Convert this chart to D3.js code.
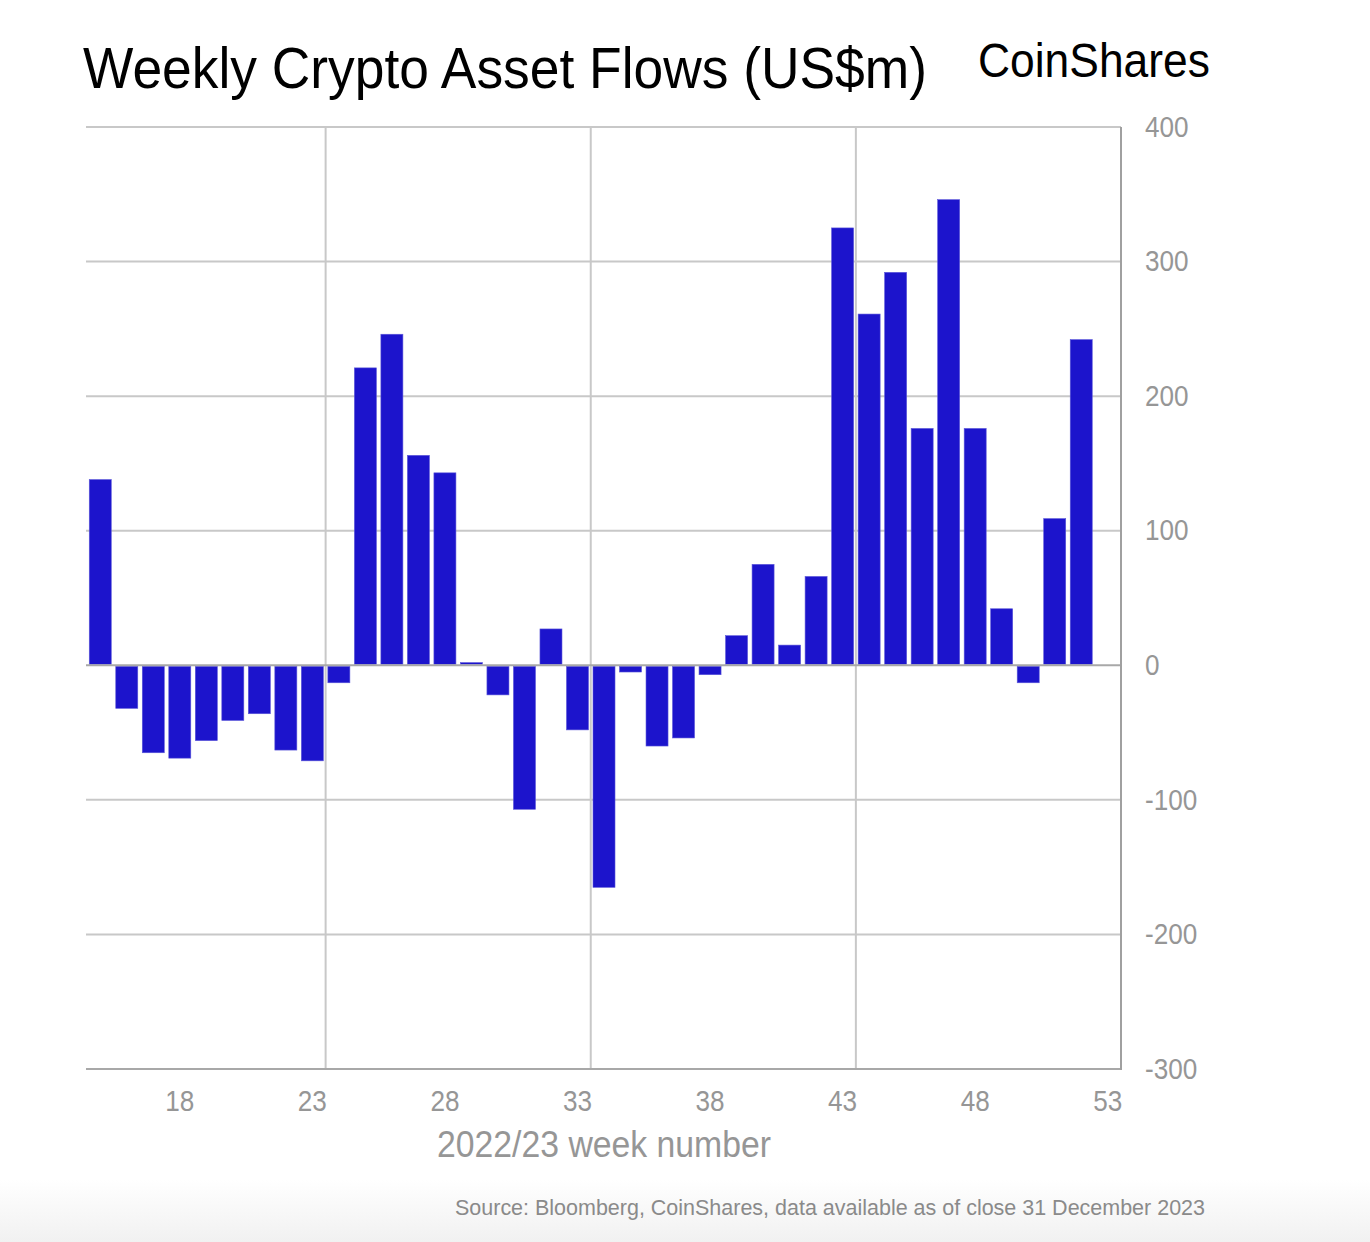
<!DOCTYPE html>
<html>
<head>
<meta charset="utf-8">
<script src="https://cdn.jsdelivr.net/npm/d3@7"></script>
<style>
  html, body { margin: 0; padding: 0; background: #fff; }
  svg { display: block; }
  text { font-family: "Liberation Sans", Arial, Helvetica, sans-serif; }
</style>
</head>
<body>
<svg id="chart" width="1370" height="1242"></svg>
<script>
// ---- data ----
const weeks = [15,16,17,18,19,20,21,22,23,24,25,26,27,28,29,30,31,32,33,34,35,36,37,38,39,40,41,42,43,44,45,46,47,48,49,50,51,52,53];
const flows = [138,-32,-65,-69,-56,-41,-36,-63,-71,-13,221,246,156,143,2,-22,-107,27,-48,-165,-5,-60,-54,-7,22,75,15,66,325,261,292,176,346,176,42,-13,109,242,null];
const xTickWeeks = [18,23,28,33,38,43,48,53];
const gridWeeks = [23,33,43];
const yTicks = [400,300,200,100,0,-100,-200,-300];
const titleText = "Weekly Crypto Asset Flows (US$m)";
const logoText = "CoinShares";
const xAxisTitle = "2022/23 week number";
const sourceText = "Source: Bloomberg, CoinShares, data available as of close 31 December 2023";

// ---- layout ----
const L = 87, R = 1121, T = 127, B = 1069;
const svg = d3.select("#chart");

const defs = svg.append("defs");
const grad = defs.append("linearGradient").attr("id","bg").attr("x1",0).attr("y1",0).attr("x2",0).attr("y2",1);
grad.append("stop").attr("offset","0").attr("stop-color","#ffffff");
grad.append("stop").attr("offset","1").attr("stop-color","#f1f1f1");
svg.append("rect").attr("x",0).attr("y",1180).attr("width",1370).attr("height",62).attr("fill","url(#bg)");

const x = d3.scaleBand().domain(weeks).range([L, R]).paddingInner(0.17).paddingOuter(0.085);
const y = d3.scaleLinear().domain([-300, 400]).range([B, T]);
const step = x.step();
const boundary = w => x(w) + x.bandwidth() + step * x.paddingInner() / 2;

// horizontal gridlines
svg.append("g").selectAll("line").data(yTicks.filter(v => v !== 0 && v !== -300)).join("line")
  .attr("x1", L - 1).attr("x2", R).attr("y1", d => y(d)).attr("y2", d => y(d))
  .attr("stroke", "#c8c8c8").attr("stroke-width", 2);

// vertical gridlines
svg.append("g").selectAll("line").data(gridWeeks).join("line")
  .attr("x1", d => boundary(d)).attr("x2", d => boundary(d)).attr("y1", T).attr("y2", B)
  .attr("stroke", "#c8c8c8").attr("stroke-width", 2);

// bars
const data = weeks.map((w, i) => ({w, v: flows[i]})).filter(d => d.v !== null);
svg.append("g").selectAll("rect").data(data).join("rect")
  .attr("x", d => x(d.w))
  .attr("width", x.bandwidth())
  .attr("y", d => d.v >= 0 ? y(d.v) : y(0) + 1)
  .attr("height", d => Math.max(0.5, Math.abs(y(d.v) - y(0)) - 1))
  .attr("fill", "#1c14cc")
  .attr("stroke", "#5b56d9").attr("stroke-width", 0.6);

// zero line, bottom and right axis lines
svg.append("line").attr("x1", L - 1).attr("x2", R).attr("y1", y(0)).attr("y2", y(0))
  .attr("stroke", "#a8a8a8").attr("stroke-width", 2);
svg.append("line").attr("x1", L - 1).attr("x2", R).attr("y1", B).attr("y2", B)
  .attr("stroke", "#a8a8a8").attr("stroke-width", 2);
svg.append("line").attr("x1", R).attr("x2", R).attr("y1", T).attr("y2", B + 1)
  .attr("stroke", "#a0a0a0").attr("stroke-width", 2);

// condense helper (the reference typeface is narrow)
function condense(sel, f) {
  sel.each(function() {
    const w = this.getComputedTextLength();
    d3.select(this).attr("textLength", w * f).attr("lengthAdjust", "spacingAndGlyphs");
  });
}

// y axis labels (right)
const yAxis = d3.axisRight(y).tickValues(yTicks).tickFormat(d => String(d)).tickSize(0).tickPadding(0);
const yg = svg.append("g").attr("transform", `translate(${R + 24},0)`).call(yAxis);
yg.select(".domain").remove();
yg.selectAll("text").attr("font-size", 29).attr("fill", "#969696")
  .attr("font-family", "'Liberation Sans', Arial, sans-serif").attr("dy", "0.32em").attr("x", 0);
condense(yg.selectAll("text"), 0.9);

// x axis labels
const xAxis = d3.axisBottom(x).tickValues(xTickWeeks).tickSize(0).tickPadding(0);
const xg = svg.append("g").attr("transform", `translate(0,${B})`).call(xAxis);
xg.select(".domain").remove();
xg.selectAll("text").attr("font-size", 29).attr("fill", "#969696")
  .attr("font-family", "'Liberation Sans', Arial, sans-serif").attr("dy", 0).attr("y", 42);
condense(xg.selectAll("text"), 0.9);

// axis title
svg.append("text").attr("x", 604).attr("y", 1157).attr("text-anchor", "middle")
  .attr("font-size", 36).attr("fill", "#969696")
  .attr("textLength", 334).attr("lengthAdjust", "spacingAndGlyphs").text(xAxisTitle);

// title
svg.append("text").attr("x", 83).attr("y", 88).attr("font-size", 58).attr("fill", "#000")
  .attr("textLength", 844).attr("lengthAdjust", "spacingAndGlyphs").text(titleText);

// logo
svg.append("text").attr("x", 978).attr("y", 77).attr("font-size", 48).attr("font-weight", 500)
  .attr("font-family", "Inter, 'Noto Sans', sans-serif").attr("fill", "#000")
  .attr("textLength", 232).attr("lengthAdjust", "spacingAndGlyphs").text(logoText);

// source
svg.append("text").attr("x", 1205).attr("y", 1215).attr("text-anchor", "end")
  .attr("font-size", 22).attr("fill", "#8a8a8a")
  .attr("textLength", 750).attr("lengthAdjust", "spacingAndGlyphs").text(sourceText);
</script>
</body>
</html>
